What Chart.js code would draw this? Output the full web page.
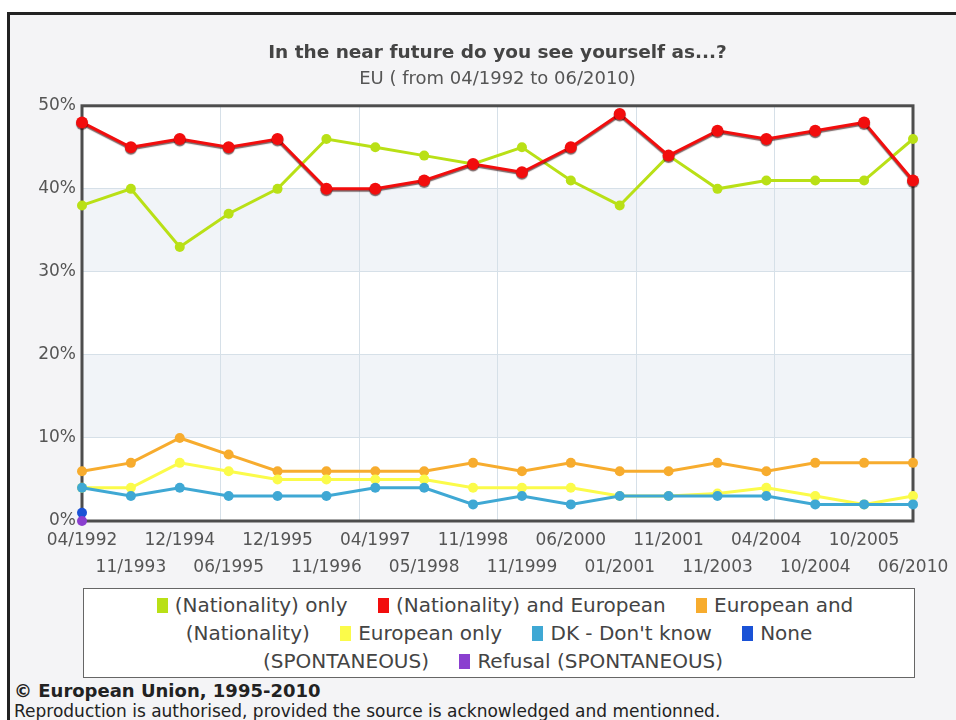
<!DOCTYPE html>
<html>
<head>
<meta charset="utf-8">
<script src="https://cdn.jsdelivr.net/npm/chart.js@4.4.1/dist/chart.umd.min.js"></script>
<style>
  html, body { margin: 0; padding: 0; background: #fff; }
  body { width: 956px; height: 720px; position: relative; overflow: hidden; }
  #frame {
    position: absolute; left: 7px; top: 12px; width: 960px; height: 720px;
    border-top: 3px solid #222; border-left: 3px solid #222; background: #f4f4f6;
  }
  #chartWrap { position: absolute; left: 0; top: 0; width: 956px; height: 590px; }
  #legendBox {
    position: absolute; left: 83px; top: 588px; width: 806px; height: 86px;
    border: 1px solid #666; background: #fff; text-align: center;
    font-family: "DejaVu Sans", sans-serif; font-size: 20px;
    color: #444; line-height: 28px; padding: 2px 12px 0 12px; box-sizing: content-box;
  }
  #legendBox .sw { display: inline-block; width: 11px; height: 15px; margin-right: 7px; vertical-align: -1px; }
  #legendBox .item { margin: 0 12px; }
  #footer1 {
    position: absolute; left: 14px; top: 680px;
    font-family: "DejaVu Sans", sans-serif; font-weight: bold; font-size: 18px; color: #222;
  }
  #footer2 {
    position: absolute; left: 14px; top: 701px;
    font-family: "DejaVu Sans", sans-serif; font-size: 17px; color: #222;
  }
</style>
</head>
<body>
<div id="frame"></div>
<div id="chartWrap"><canvas id="surveyChart" width="956" height="590"></canvas></div>
<div id="legendBox"></div>
<div id="footer1">© European Union, 1995-2010</div>
<div id="footer2">Reproduction is authorised, provided the source is acknowledged and mentionned.</div>

<script>
// Survey waves
const waves = ['04/1992', '11/1993', '12/1994', '06/1995', '12/1995', '11/1996', '04/1997', '05/1998', '11/1998',
               '11/1999', '06/2000', '01/2001', '11/2001', '11/2003', '04/2004', '10/2004', '10/2005', '06/2010'];

// Series values (%)
const nationalityOnly = [38, 40, 33, 37, 40, 46, 45, 44, 43, 45, 41, 38, 44, 40, 41, 41, 41, 46];
const nationalityAndEuropean = [48, 45, 46, 45, 46, 40, 40, 41, 43, 42, 45, 49, 44, 47, 46, 47, 48, 41];
const europeanAndNationality = [6, 7, 10, 8, 6, 6, 6, 6, 7, 6, 7, 6, 6, 7, 6, 7, 7, 7];
const europeanOnly = [4, 4, 7, 6, 5, 5, 5, 5, 4, 4, 4, 3, 3, 3.3, 4, 3, 2, 3];
const dontKnow = [4, 3, 4, 3, 3, 3, 4, 4, 2, 3, 2, 3, 3, 3, 3, 2, 2, 2];
const noneSpontaneous = [1];
const refusalSpontaneous = [0];

const yTicks = [0, 10, 20, 30, 40, 50];

const series = [
    { label: '(Nationality) only', data: nationalityOnly, color: '#b9e016', radius: 5 },
    { label: '(Nationality) and European', data: nationalityAndEuropean, color: '#f20d0d', radius: 6, shadow: true },
    { label: 'European and (Nationality)', data: europeanAndNationality, color: '#f7ac2e', radius: 5 },
    { label: 'European only', data: europeanOnly, color: '#fbfb4a', radius: 5 },
    { label: 'DK - Don\'t know', data: dontKnow, color: '#3fa8d4', radius: 5 },
    { label: 'None (SPONTANEOUS)', data: noneSpontaneous, color: '#1a52d6', radius: 5 },
    { label: 'Refusal (SPONTANEOUS)', data: refusalSpontaneous, color: '#8a3fcf', radius: 5 }
];

// Plot background: white with light bands between 10-20 and 30-40
const bandPlugin = {
    id: 'bands',
    beforeDraw(chart) {
        const { ctx, chartArea: a, scales: { y } } = chart;
        ctx.save();
        ctx.fillStyle = '#ffffff';
        ctx.fillRect(a.left, a.top, a.right - a.left, a.bottom - a.top);
        ctx.fillStyle = '#f1f4f8';
        [[10, 20], [30, 40]].forEach(([lo, hi]) => {
            const top = y.getPixelForValue(hi);
            const bottom = y.getPixelForValue(lo);
            ctx.fillRect(a.left, top, a.right - a.left, bottom - top);
        });
        ctx.restore();
    },
    beforeDatasetsDraw(chart) {
        const { ctx, chartArea: a } = chart;
        ctx.save();
        ctx.strokeStyle = '#4d4d4d';
        ctx.lineWidth = 3;
        ctx.strokeRect(a.left, a.top, a.right - a.left, a.bottom - a.top);
        ctx.restore();
    },
    beforeDatasetDraw(chart, args) {
        const ds = chart.data.datasets[args.index];
        if (ds.shadow) {
            const ctx = chart.ctx;
            ctx.save();
            ctx.shadowColor = 'rgba(40,0,0,0.6)';
            ctx.shadowOffsetY = 1.5;
            ctx.shadowBlur = 1;
        }
    },
    afterDatasetDraw(chart, args) {
        const ds = chart.data.datasets[args.index];
        if (ds.shadow) chart.ctx.restore();
    }
};

function createChart() {
    const ctx = document.getElementById('surveyChart').getContext('2d');

    new Chart(ctx, {
        type: 'line',
        data: {
            labels: waves,
            datasets: series.map(s => ({
                label: s.label,
                data: s.data,
                borderColor: s.color,
                backgroundColor: s.color,
                pointBackgroundColor: s.color,
                pointBorderColor: s.color,
                pointRadius: s.radius,
                pointBorderWidth: 0,
                borderWidth: 3,
                tension: 0,
                clip: false,
                shadow: !!s.shadow
            })).reverse()
        },
        options: {
            responsive: false,
            animation: false,
            layout: { padding: { left: 0, right: 43, top: 42, bottom: 9 } },
            plugins: {
                legend: { display: false },
                tooltip: { enabled: false },
                title: {
                    display: true,
                    fullSize: false, // centre over the plot, not the whole canvas
                    text: 'In the near future do you see yourself as...?',
                    color: '#444',
                    font: { family: '"DejaVu Sans", sans-serif', size: 18.5, weight: 'bold' },
                    padding: { top: 0, bottom: 4 }
                },
                subtitle: {
                    display: true,
                    fullSize: false,
                    text: 'EU ( from 04/1992 to 06/2010)',
                    color: '#555',
                    font: { family: '"DejaVu Sans", sans-serif', size: 18 },
                    padding: { top: 0, bottom: 16 }
                }
            },
            scales: {
                x: {
                    offset: false,
                    grid: { display: false, drawTicks: false },
                    border: { display: false },
                    ticks: {
                        autoSkip: false,
                        maxRotation: 0,
                        padding: 6,
                        color: '#555',
                        font: { family: '"DejaVu Sans", sans-serif', size: 17, lineHeight: 1.6 },
                        callback: function (value, index) {
                            const label = this.getLabelForValue(value);
                            return index % 2 === 0 ? [label] : ['', label];
                        }
                    },
                    afterFit(scale) { scale.height = 60; }
                },
                x2: {
                    type: 'linear',
                    position: 'bottom',
                    min: 0,
                    max: 6,
                    grid: { color: '#d6e0e8', drawTicks: false },
                    border: { display: false },
                    ticks: { display: false, stepSize: 1 },
                    afterFit(scale) { scale.height = 0; }
                },
                y: {
                    min: 0,
                    max: 50,
                    afterBuildTicks(scale) { scale.ticks = yTicks.map(v => ({ value: v })); },
                    grid: { color: '#d6e0e8', drawTicks: false },
                    border: { display: false },
                    ticks: {
                        padding: 6,
                        color: '#555',
                        font: { family: '"DejaVu Sans", sans-serif', size: 17 },
                        callback: v => v + '%'
                    },
                    afterFit(scale) { scale.width = 82; }
                }
            }
        },
        plugins: [bandPlugin]
    });
}

// HTML legend built from the series list
function buildLegend() {
    const box = document.getElementById('legendBox');
    box.innerHTML = series.map(s =>
        `<span class="item"><span class="sw" style="background:${s.color}"></span>${s.label}</span>`
    ).join(' ');
}

buildLegend();
createChart();
</script>
</body>
</html>
